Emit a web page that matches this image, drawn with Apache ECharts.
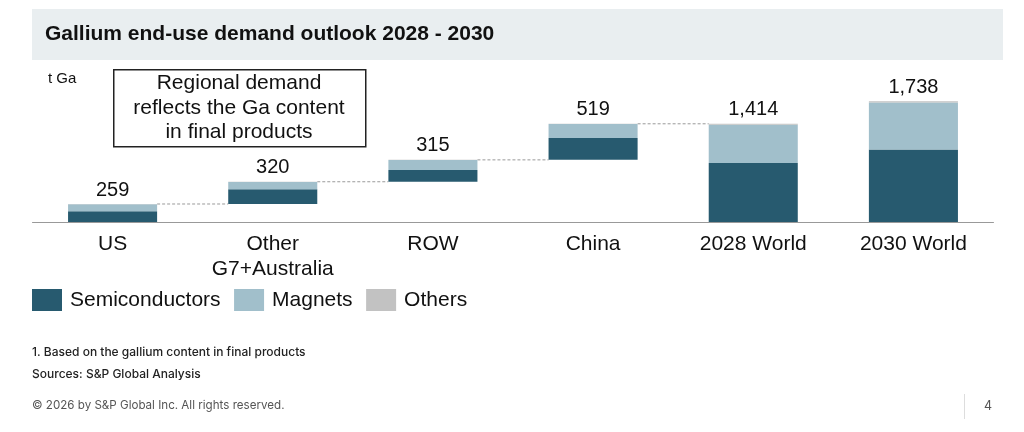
<!DOCTYPE html>
<html lang="en">
<head>
    <meta charset="utf-8">
    <title>Gallium end-use demand outlook</title>
    <script type="text/javascript" src="https://cdn.jsdelivr.net/npm/echarts@6/dist/echarts.min.js"></script>
    <style>
        html, body { margin: 0; padding: 0; background: #fff; }
        #main { width: 1024px; height: 432px; }
    </style>
</head>
<body>
<div id="main"></div>

<script>
    // 数据 (t Ga)
    var categories = ['US', 'Other\nG7+Australia', 'ROW', 'China', '2028 World', '2030 World'];
    var semiconductors = [155, 211, 168, 316, 850, 1044];
    var magnets = [100, 105, 144, 199, 548, 674];
    var others = [4, 4, 3, 4, 16, 20];
    var totals = [259, 320, 315, 519, 1414, 1738];
    // invisible base of the waterfall steps
    var offsets = [0, 259, 579, 894, 0, 0];

    var font = '"Liberation Sans", Arial, sans-serif';
    var barRatio = 0.556;

    // dashed connectors: from the top of bar i to bar i+1
    var connectors = [];
    for (var i = 0; i < 4; i++) {
        connectors.push([i, offsets[i] + totals[i]]);
    }

    var chartDom = document.getElementById('main');
    var myChart = echarts.init(chartDom);
    var option;

    option = {
        animation: false,
        textStyle: { fontFamily: font },
        grid: { left: 32.5, right: 30.5, top: 83, bottom: 210, containLabel: false },
        legend: {
            data: ['Semiconductors', 'Magnets', 'Others'],
            left: 32,
            top: 289,
            padding: 0,
            icon: 'rect',
            itemWidth: 30,
            itemHeight: 22,
            itemGap: 13.5,
            textStyle: { fontSize: 21, color: '#111', fontFamily: font, padding: [0, 0, 0, 3] }
        },
        xAxis: {
            type: 'category',
            data: categories,
            axisTick: { show: false },
            axisLine: { lineStyle: { color: '#999', width: 1 } },
            axisLabel: { fontSize: 21, color: '#111', margin: 10, lineHeight: 25, interval: 0 }
        },
        yAxis: {
            type: 'value',
            min: 0,
            max: 2000,
            show: false
        },
        series: [
            {
                name: 'base',
                type: 'bar',
                stack: 'all',
                barWidth: (barRatio * 100) + '%',
                itemStyle: { color: 'transparent' },
                data: offsets,
                silent: true
            },
            {
                name: 'Semiconductors',
                type: 'bar',
                stack: 'all',
                itemStyle: { color: '#275a6f' },
                data: semiconductors
            },
            {
                name: 'Magnets',
                type: 'bar',
                stack: 'all',
                itemStyle: { color: '#a1bfcb' },
                data: magnets
            },
            {
                name: 'Others',
                type: 'bar',
                stack: 'all',
                itemStyle: { color: '#c2c2c2' },
                data: others,
                label: {
                    show: true,
                    position: 'top',
                    distance: 4,
                    fontSize: 20,
                    color: '#111',
                    formatter: function (p) {
                        return totals[p.dataIndex].toLocaleString('en-US');
                    }
                }
            },
            {
                name: 'connector',
                type: 'custom',
                silent: true,
                data: connectors,
                renderItem: function (params, api) {
                    var idx = api.value(0);
                    var lvl = api.value(1);
                    var half = api.size([1, 0])[0] * barRatio / 2;
                    var p0 = api.coord([idx, lvl]);
                    var p1 = api.coord([idx + 1, lvl]);
                    return {
                        type: 'line',
                        shape: { x1: p0[0] + half, y1: p0[1], x2: p1[0] - half, y2: p1[1] },
                        style: { stroke: '#9a9a9a', lineWidth: 1, lineDash: [3, 2] }
                    };
                }
            }
        ],
        graphic: [
            // title band
            { type: 'rect', left: 32, top: 9, shape: { width: 971, height: 51 }, style: { fill: '#e9eef0' }, z: -1 },
            { type: 'text', left: 45, top: 24, style: { text: 'Gallium end-use demand outlook 2028 - 2030', font: 'bold 21px ' + font, fill: '#111' } },
            // unit
            { type: 'text', left: 48, top: 71, style: { text: 't Ga', font: '15px ' + font, fill: '#111' } },
            // note box
            { type: 'rect', left: 113, top: 69, shape: { width: 252, height: 77 }, style: { fill: '#fff', stroke: '#222', lineWidth: 1.5 } },
            {
                type: 'text', x: 239, y: 108,
                style: {
                    text: 'Regional demand\nreflects the Ga content\nin final products',
                    font: '21px ' + font, fill: '#111', lineHeight: 24.5,
                    textAlign: 'center', textVerticalAlign: 'middle'
                }
            },
            // footnotes
            { type: 'text', left: 32, top: 346, style: { text: '1. Based on the gallium content in final products', font: '500 12px Inter, sans-serif', fill: '#222' } },
            { type: 'text', left: 32, top: 368, style: { text: 'Sources: S&P Global Analysis', font: '500 12px Inter, sans-serif', fill: '#222' } },
            { type: 'text', left: 32, top: 400, style: { text: '\u00a9 2026 by S&P Global Inc. All rights reserved.', font: '11.6px Inter, sans-serif', fill: '#555' } },
            { type: 'rect', left: 964, top: 394, shape: { width: 1, height: 25 }, style: { fill: '#ddd' } },
            { type: 'text', left: 984, top: 400, style: { text: '4', font: '12.5px Inter, sans-serif', fill: '#555' } }
        ]
    };
    myChart.setOption(option);
</script>
</body>
</html>
